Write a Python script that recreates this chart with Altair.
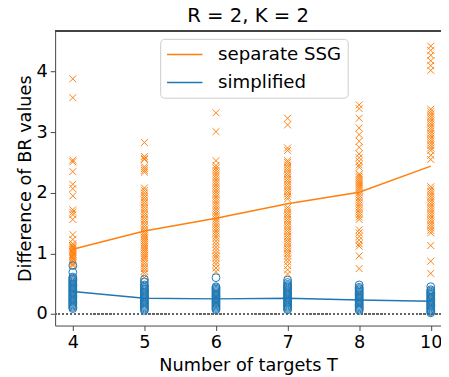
import altair as alt
import pandas as pd

T_values = [4, 5, 6, 7, 8, 10]

ssg_4 = [3.88, 3.57, 2.54, 2.51, 2.35, 2.14, 2.07, 1.95, 1.72, 1.68, 1.64, 1.56, 1.31, 1.23,
         1.16, 1.13, 1.11, 1.09, 1.07, 1.05, 1.03, 1.01, 0.99, 0.97, 0.95, 0.93, 0.91, 0.88,
         0.85, 0.82, 0.8]
simp_4 = [0.8, 0.69, 0.61, 0.59, 0.57, 0.55, 0.53, 0.51, 0.49, 0.47, 0.45, 0.43, 0.41, 0.39,
          0.37, 0.35, 0.33, 0.31, 0.29, 0.27, 0.25, 0.23, 0.21, 0.19, 0.17, 0.15, 0.13, 0.11, 0.09]

ssg_5 = [2.83, 2.6, 2.57, 2.55, 2.43, 2.4, 2.37, 2.34, 2.08, 2.04, 2.0, 1.96, 1.92, 1.88, 1.84,
         1.8, 1.76, 1.72, 1.68, 1.64, 1.6, 1.56, 1.52, 1.48, 1.44, 1.4, 1.36, 1.33, 1.3, 1.27,
         1.24, 1.21, 1.18, 1.15, 1.12, 1.09, 1.06, 1.03, 1.0, 0.97, 0.94, 0.91, 0.87, 0.83,
         0.79, 0.75, 0.71, 0.67, 0.6]
simp_5 = [0.57, 0.53, 0.48, 0.46, 0.44, 0.42, 0.4, 0.38, 0.36, 0.34, 0.32, 0.3, 0.28, 0.26,
          0.24, 0.22, 0.2, 0.18, 0.16, 0.14, 0.12, 0.1, 0.08, 0.06]

ssg_6 = [3.32, 3.01, 2.53, 2.45, 2.41, 2.37, 2.33, 2.29, 2.25, 2.21, 2.17, 2.13, 2.09, 2.05,
         2.01, 1.97, 1.93, 1.89, 1.85, 1.81, 1.77, 1.73, 1.69, 1.65, 1.61, 1.57, 1.53, 1.49,
         1.45, 1.41, 1.37, 1.33, 1.29, 1.25, 1.2, 1.15, 1.1, 1.05, 1.0, 0.96, 0.92, 0.87,
         0.82, 0.76, 0.7]
simp_6 = [0.6, 0.45, 0.43, 0.41, 0.39, 0.37, 0.35, 0.33, 0.31, 0.29, 0.27, 0.25, 0.23, 0.21,
          0.19, 0.17, 0.15, 0.13, 0.11, 0.09, 0.07]

ssg_7 = [3.23, 3.12, 2.74, 2.7, 2.53, 2.5, 2.46, 2.42, 2.38, 2.34, 2.3, 2.26, 2.22, 2.18, 2.14,
         2.1, 2.06, 2.02, 1.98, 1.94, 1.9, 1.76, 1.72, 1.68, 1.64, 1.6, 1.56, 1.52, 1.48, 1.44,
         1.4, 1.36, 1.32, 1.28, 1.24, 1.2, 1.16, 1.12, 1.08, 1.04, 1.0, 0.96, 0.91, 0.86, 0.8,
         0.73, 0.66]
simp_7 = [0.56, 0.52, 0.49, 0.47, 0.45, 0.43, 0.41, 0.39, 0.37, 0.35, 0.33, 0.31, 0.29, 0.27,
          0.25, 0.23, 0.21, 0.19, 0.17, 0.15, 0.13, 0.11, 0.09, 0.07]

ssg_8 = [3.45, 3.39, 3.23, 3.07, 2.96, 2.85, 2.75, 2.64, 2.58, 2.52, 2.46, 2.42, 2.31, 2.28,
         2.25, 2.22, 2.19, 2.16, 2.13, 2.1, 2.07, 2.04, 2.0, 1.96, 1.92, 1.88, 1.84, 1.8, 1.76,
         1.72, 1.68, 1.64, 1.6, 1.56, 1.39, 1.34, 1.28, 1.22, 1.16, 1.12, 0.96, 0.75]
simp_8 = [0.48, 0.44, 0.42, 0.4, 0.38, 0.36, 0.34, 0.32, 0.3, 0.28, 0.26, 0.24, 0.22, 0.2,
          0.18, 0.16, 0.14, 0.12, 0.1, 0.08, 0.06]

ssg_10 = [4.42, 4.35, 4.27, 4.18, 4.1, 4.02, 3.38, 3.34, 3.3, 3.26, 3.22, 3.18, 3.14, 3.1,
          3.06, 3.02, 2.98, 2.94, 2.9, 2.86, 2.82, 2.78, 2.74, 2.7, 2.62, 2.55, 2.1, 2.06,
          2.02, 1.98, 1.94, 1.9, 1.86, 1.82, 1.78, 1.74, 1.7, 1.66, 1.62, 1.58, 1.54, 1.5,
          1.46, 1.42, 1.38, 1.34, 1.13, 0.87, 0.67]
simp_10 = [0.45, 0.4, 0.38, 0.36, 0.34, 0.32, 0.3, 0.28, 0.26, 0.24, 0.22, 0.2, 0.18, 0.16,
           0.14, 0.12, 0.1, 0.08, 0.06, 0.04, 0.02]

ssg_mean = [1.07, 1.37, 1.58, 1.82, 2.01, 2.44]
simp_mean = [0.37, 0.26, 0.25, 0.26, 0.23, 0.21]

series_names = ["separate SSG", "simplified"]
series_colors = ["#ff7f0e", "#1f77b4"]

ssg_lists = [ssg_4, ssg_5, ssg_6, ssg_7, ssg_8, ssg_10]
simp_lists = [simp_4, simp_5, simp_6, simp_7, simp_8, simp_10]

ssg_rows, simp_rows, line_rows = [], [], []
for i, t in enumerate(T_values):
    for v in ssg_lists[i]:
        ssg_rows.append({"idx": i, "T": t, "value": v})
    for v in simp_lists[i]:
        simp_rows.append({"idx": i, "T": t, "value": v})
    line_rows.append({"idx": i, "T": t, "value": ssg_mean[i], "series": series_names[0]})
    line_rows.append({"idx": i, "T": t, "value": simp_mean[i], "series": series_names[1]})

ssg_df = pd.DataFrame(ssg_rows)
simp_df = pd.DataFrame(simp_rows)
line_df = pd.DataFrame(line_rows)

FONT = "DejaVu Sans"
FS = 18
W, H = 393, 300

label_expr = "[" + ",".join("'%s'" % t for t in T_values) + "][datum.value]"

x_enc = alt.X("idx:Q",
              scale=alt.Scale(domain=[-0.247, 5.143], nice=False, zero=False),
              axis=alt.Axis(values=list(range(len(T_values))), labelExpr=label_expr,
                            title="Number of targets T", grid=False, titlePadding=6))
y_enc = alt.Y("value:Q",
              scale=alt.Scale(domain=[-0.19, 4.67], nice=False, zero=False),
              axis=alt.Axis(values=[0, 1, 2, 3, 4], format="d",
                            title="Difference of BR values", grid=False, titlePadding=2))

zero_line = alt.Chart(ssg_df).mark_rule(color="#666666", strokeDash=[1.5, 2.5],
                                        strokeWidth=1.5).encode(y=alt.datum(0))

ssg_pts = alt.Chart(ssg_df).mark_point(
    shape="M-1,-1L1,1M-1,1L1,-1", filled=False, size=49, strokeWidth=1,
    color=series_colors[0], opacity=1).encode(x=x_enc, y=y_enc)

simp_pts = alt.Chart(simp_df).mark_point(
    shape="circle", filled=False, size=64, strokeWidth=1,
    color=series_colors[1], opacity=1).encode(x=x_enc, y=y_enc)

lines = alt.Chart(line_df).mark_line(strokeWidth=1.5).encode(
    x=x_enc, y=y_enc,
    color=alt.Color("series:N",
                    scale=alt.Scale(domain=series_names, range=series_colors),
                    legend=alt.Legend(orient="none", legendX=107, legendY=8, title=None,
                                      fillColor="rgba(255,255,255,0.8)",
                                      strokeColor="#cccccc", cornerRadius=4, padding=6,
                                      symbolType="M-1,0L3,0", symbolSize=324,
                                      symbolStrokeWidth=1.5, labelFontSize=18.5,
                                      labelFont=FONT, labelOffset=33, labelColor="black",
                                      rowPadding=8.5)))

top_spine = alt.Chart(ssg_df).mark_rule(color="#444444", strokeWidth=1).encode(
    x=alt.value(0), x2=alt.value(W), y=alt.value(0))

chart = alt.layer(zero_line, ssg_pts, simp_pts, lines, top_spine).properties(
    width=W, height=H,
    title=alt.Title("R = 2, K = 2", fontSize=20, font=FONT, fontWeight="normal",
                    anchor="middle", color="black", offset=5),
    autosize=alt.AutoSizeParams(type="none"),
    padding={"left": 48, "top": 20, "right": 0, "bottom": 49},
).configure_view(stroke=None).configure_axis(
    labelFont=FONT, titleFont=FONT, labelFontSize=FS, titleFontSize=FS,
    labelColor="black", titleColor="black", titleFontWeight="normal",
    domainColor="#444444", domainWidth=1, tickColor="#444444", tickWidth=1,
    tickSize=5, labelPadding=3,
)

chart.save("out.html", embed_options={"renderer": "svg", "actions": False})
